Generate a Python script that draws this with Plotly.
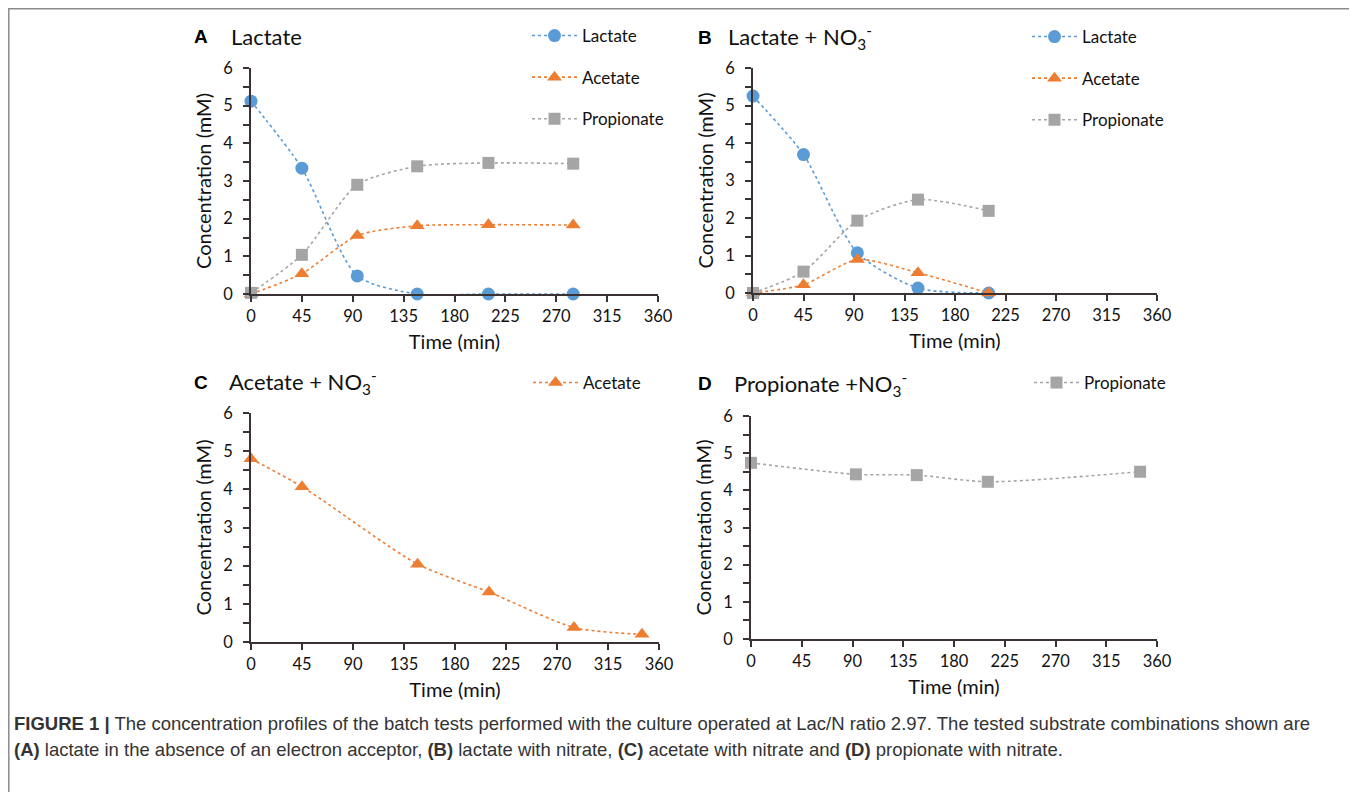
import plotly.graph_objects as go

W, H = 1357, 792
OFF = 8  # page body margin; figure coords = reference coords - OFF

# ---------------- data ----------------
# Panel A: Lactate
a_time_lac = [0, 45, 94, 147, 210, 285]
a_lactate = [5.12, 3.34, 0.48, 0.0, 0.0, 0.0]
a_acetate = [0.0, 0.54, 1.55, 1.81, 1.84, 1.83]
a_propionate = [0.03, 1.04, 2.90, 3.39, 3.48, 3.46]

# Panel B: Lactate + NO3-
b_time = [0, 45, 93, 147, 210]
b_lactate = [5.25, 3.69, 1.07, 0.13, 0.0]
b_acetate = [0.0, 0.22, 0.89, 0.54, 0.0]
b_propionate = [0.0, 0.57, 1.93, 2.49, 2.19]

# Panel C: Acetate + NO3-
c_time = [0, 45, 147, 210, 285, 345]
c_acetate = [4.80, 4.07, 2.04, 1.31, 0.38, 0.20]

# Panel D: Propionate + NO3-
d_time = [0, 93, 147, 210, 345]
d_propionate = [4.74, 4.43, 4.41, 4.23, 4.50]

x_ticks = [0, 45, 90, 135, 180, 225, 270, 315, 360]
y_ticks = [0, 1, 2, 3, 4, 5, 6]

# ---------------- style ----------------
BLUE = "#5B9BD5"
ORANGE = "#ED7D31"
GREY = "#A5A5A5"
AXIS = "#3a3232"
FONT = "Lato"
TXT = "#111"


def fx(px):
    return (px - OFF) / W


def fy(py):
    return 1 - (py - OFF) / H


fig = go.Figure()


def add(x, y, name, color, symbol, xa, ya, legend, group):
    fig.add_trace(go.Scatter(
        x=x, y=y, name=name, mode="lines+markers",
        line=dict(color=color, width=1.6, dash="dot", shape="spline", smoothing=0.7),
        marker=dict(color=color, symbol=symbol, size=13 if symbol != "square" else 12),
        xaxis=xa, yaxis=ya, legend=legend, legendgroup=group, cliponaxis=False,
    ))


add(a_time_lac, a_lactate, "Lactate", BLUE, "circle", "x", "y", "legend", "a1")
add(a_time_lac, a_acetate, "Acetate", ORANGE, "triangle-up", "x", "y", "legend", "a2")
add(a_time_lac, a_propionate, "Propionate", GREY, "square", "x", "y", "legend", "a3")

add(b_time, b_lactate, "Lactate", BLUE, "circle", "x2", "y2", "legend2", "b1")
add(b_time, b_acetate, "Acetate", ORANGE, "triangle-up", "x2", "y2", "legend2", "b2")
add(b_time, b_propionate, "Propionate", GREY, "square", "x2", "y2", "legend2", "b3")

add(c_time, c_acetate, "Acetate", ORANGE, "triangle-up", "x3", "y3", "legend3", "c1")
add(d_time, d_propionate, "Propionate", GREY, "square", "x4", "y4", "legend4", "d1")

# axes geometry (reference pixels)
panels = {
    "": dict(x0=251, x1=658, y0=68, y1=294),
    "2": dict(x0=753, x1=1157, y0=68, y1=293),
    "3": dict(x0=251, x1=659, y0=413, y1=642),
    "4": dict(x0=751, x1=1157, y0=416, y1=639),
}

layout = {}
for k, g in panels.items():
    layout["xaxis" + k] = dict(
        domain=[fx(g["x0"]), fx(g["x1"])], anchor="y" + k, range=[0, 360],
        tickvals=x_ticks, ticks="outside", ticklen=6, tickwidth=1.5, tickcolor=AXIS,
        showline=True, linecolor=AXIS, linewidth=1.8, showgrid=False, zeroline=False,
        tickfont=dict(family=FONT, size=16.5, color=TXT), ticklabelstandoff=0,
        title=dict(text="Time (min)", font=dict(family=FONT, size=20, color=TXT), standoff=10),
    )
    layout["yaxis" + k] = dict(
        domain=[fy(g["y1"]), fy(g["y0"])], anchor="x" + k, range=[0, 6],
        tickvals=y_ticks, ticks="outside", ticklen=6, tickwidth=1.5, tickcolor=AXIS,
        minor=dict(dtick=0.5, tick0=0, ticks="outside", ticklen=6, tickwidth=1.5, tickcolor=AXIS),
        showline=True, linecolor=AXIS, linewidth=1.8, showgrid=False, zeroline=False,
        tickfont=dict(family=FONT, size=16.5, color=TXT), ticklabelstandoff=7,
        title=dict(text="Concentration (mM)", font=dict(family=FONT, size=20, color=TXT), standoff=6),
    )

legend_common = dict(
    xanchor="left", yanchor="top", bgcolor="rgba(0,0,0,0)",
    font=dict(family=FONT, size=17, color=TXT),
    traceorder="grouped", tracegroupgap=16.5, itemwidth=45,
)
layout["legend"] = dict(legend_common, x=fx(527), y=fy(18))
layout["legend2"] = dict(legend_common, x=fx(1027), y=fy(19))
layout["legend3"] = dict(legend_common, x=fx(528), y=fy(365))
layout["legend4"] = dict(legend_common, x=fx(1029), y=fy(365))

annotations = []


def label(letter, title, lx, tx, py):
    annotations.append(dict(text="<b>" + letter + "</b>", x=fx(lx), y=fy(py), xref="paper", yref="paper",
                            xanchor="center", yanchor="middle", showarrow=False,
                            font=dict(family="Liberation Sans", size=19, color="#000")))
    annotations.append(dict(text=title, x=fx(tx), y=fy(py), xref="paper", yref="paper",
                            xanchor="left", yanchor="middle", showarrow=False,
                            font=dict(family=FONT, size=22, color=TXT)))


label("A", "Lactate", 201, 229, 36)
label("B", "Lactate + NO<sub>3</sub><sup>-</sup>", 705, 726, 37)
label("C", "Acetate + NO<sub>3</sub><sup>-</sup>", 201, 227, 382)
label("D", "Propionate +NO<sub>3</sub><sup>-</sup>", 705, 732, 384)

cap_font = dict(family="Liberation Sans, Arial", size=18.5, color="#333")
annotations.append(dict(
    text="<b>FIGURE 1 |</b> The concentration profiles of the batch tests performed with the culture operated at Lac/N ratio 2.97. The tested substrate combinations shown are",
    x=fx(12), y=fy(723), xref="paper", yref="paper", xanchor="left", yanchor="middle",
    showarrow=False, font=cap_font))
annotations.append(dict(
    text="<b>(A)</b> lactate in the absence of an electron acceptor, <b>(B)</b> lactate with nitrate, <b>(C)</b> acetate with nitrate and <b>(D)</b> propionate with nitrate.",
    x=fx(12), y=fy(749), xref="paper", yref="paper", xanchor="left", yanchor="middle",
    showarrow=False, font=cap_font))

shapes = [dict(type="rect", xref="paper", yref="paper", x0=0.8 / W, x1=fx(1355), y0=-0.05, y1=1 - 0.8 / H,
               line=dict(color="#8a8a8a", width=1.5))]

fig.update_layout(
    width=W, height=H, margin=dict(l=0, r=0, t=0, b=0, autoexpand=False),
    paper_bgcolor="white", plot_bgcolor="white",
    annotations=annotations, shapes=shapes, **layout,
)

fig.write_html("out.html")
